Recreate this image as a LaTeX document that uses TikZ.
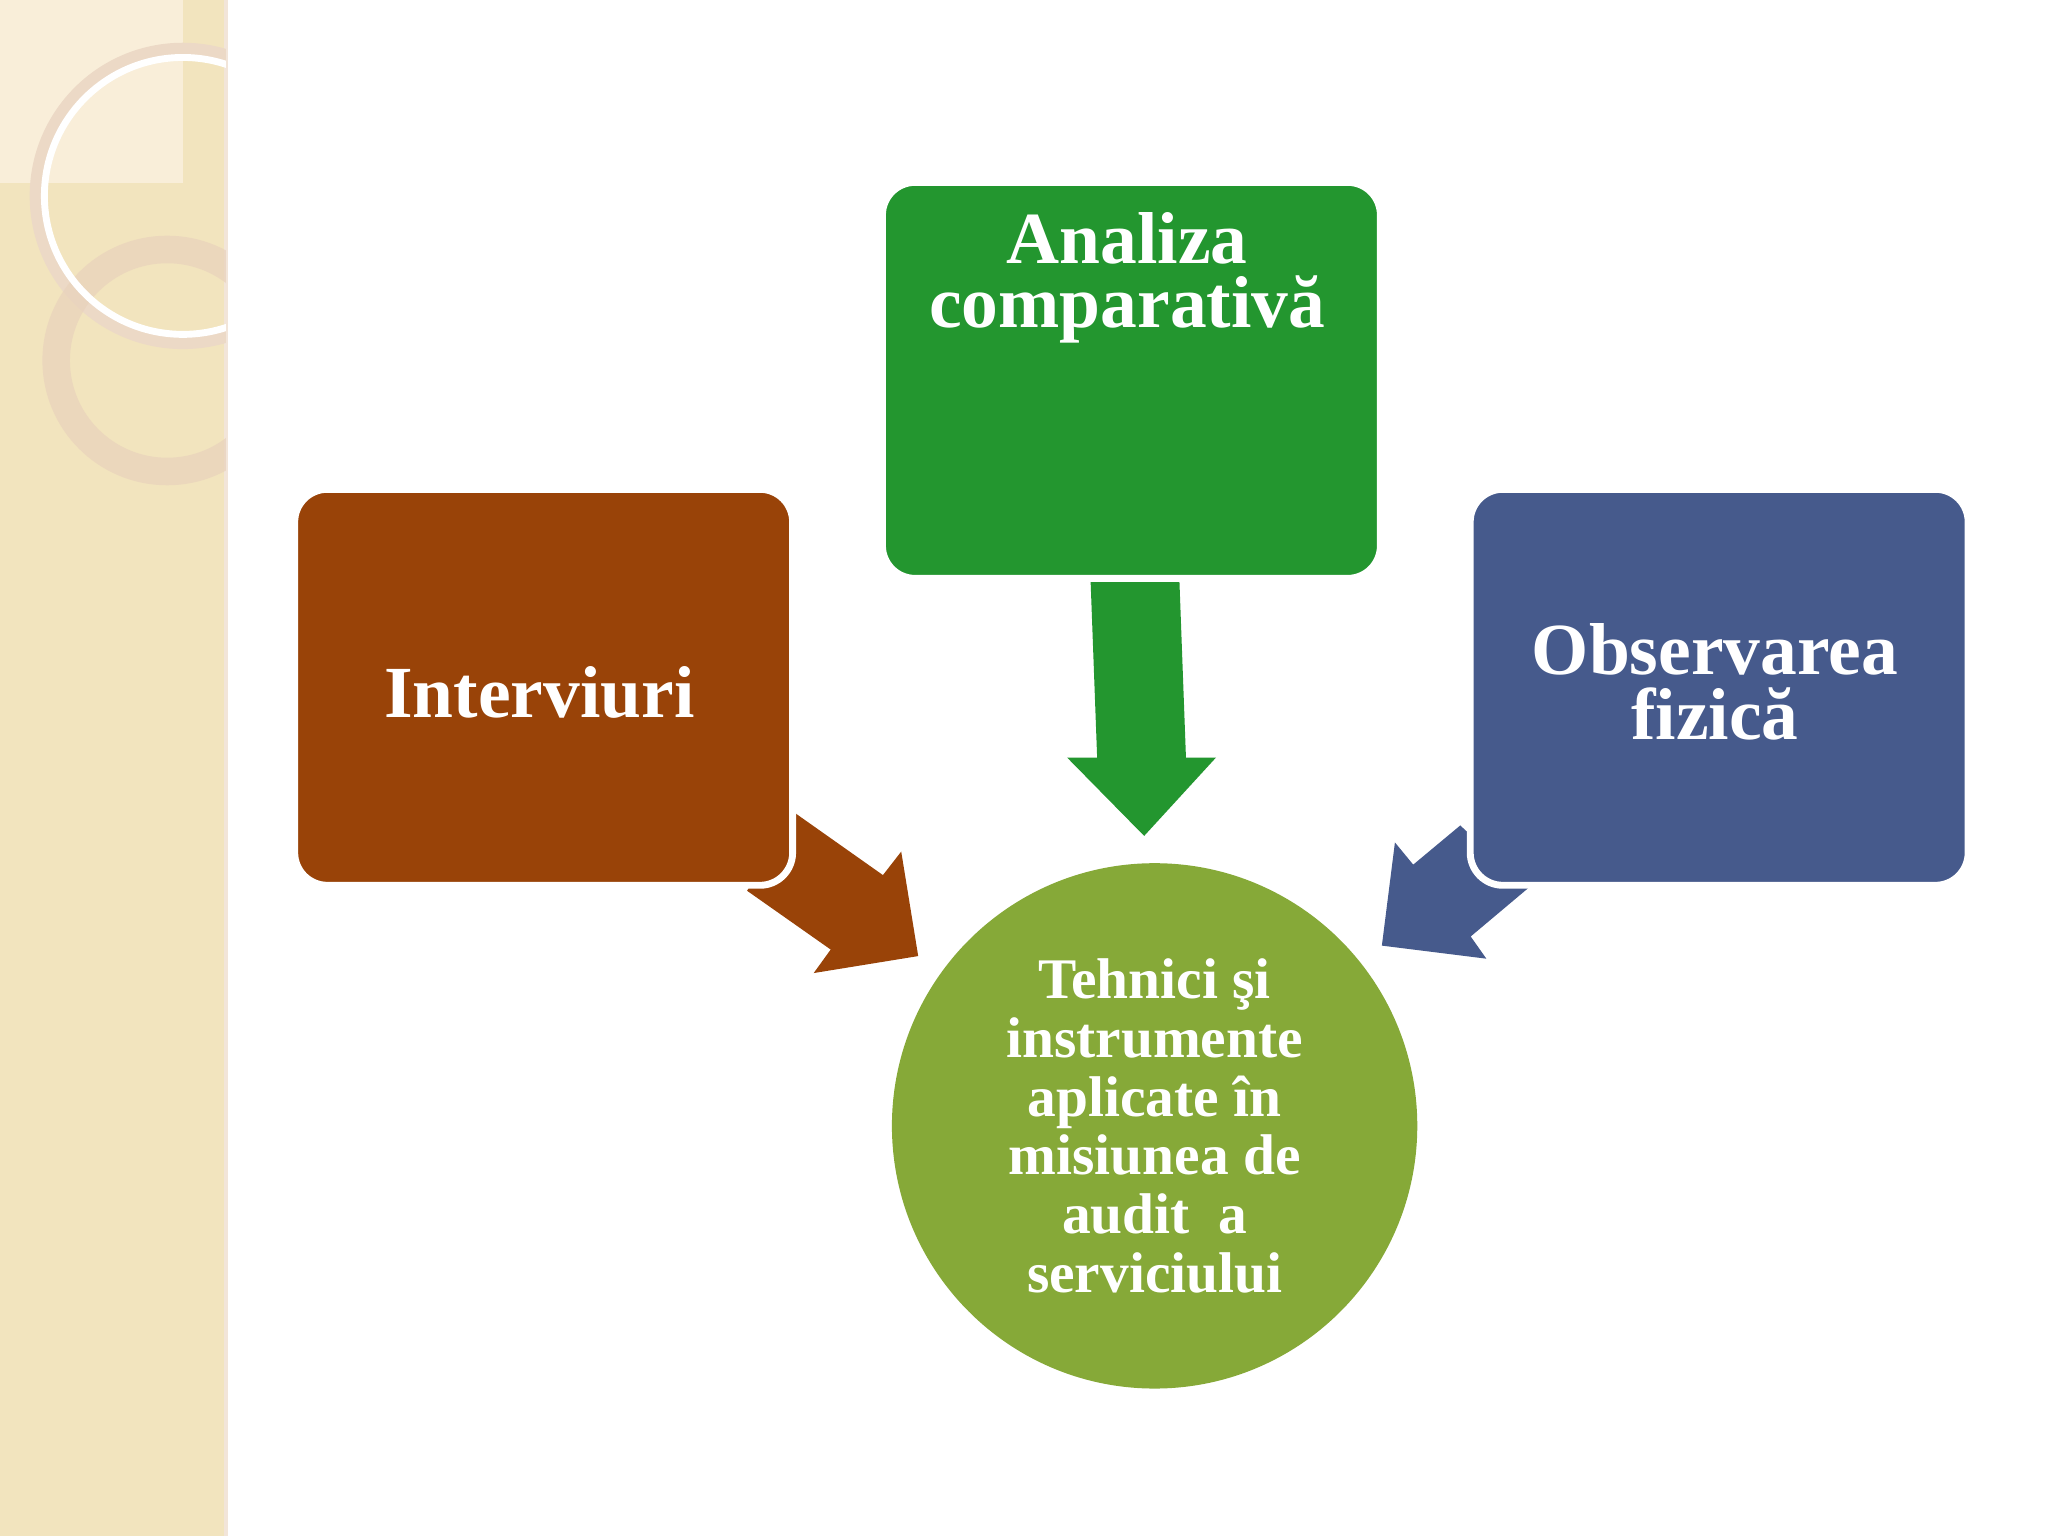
\documentclass[tikz,border=0pt]{standalone}
\usepackage{fontspec}
\setmainfont{Liberation Serif}
\definecolor{cbrown}{RGB}{153,67,8}
\definecolor{cgreen}{RGB}{35,150,47}
\definecolor{cblue}{RGB}{70,90,140}
\definecolor{clime}{RGB}{134,169,56}
\definecolor{cstrip}{RGB}{242,228,190}
\begin{document}
\begin{tikzpicture}[x=0.01cm,y=-0.01cm,
  box/.style={rounded corners=0.25cm, draw=white, line width=1.5pt, minimum width=3.81cm, minimum height=3.03cm, anchor=north west},
  lbl/.style={text=white, font=\bfseries\fontsize{16}{17}\selectfont, align=center}]
\fill[white] (0,0) rectangle (1568,1176);
\useasboundingbox (0,0) rectangle (1568,1176);
% side strip
\fill[cstrip] (0,0) rectangle (173,1176);
\draw[white!80!brown, line width=1pt] (173,0) -- (173,1176);
\begin{scope}
\clip (0,0) rectangle (173,1176);
\fill[orange!8!white, opacity=0.6] (0,0) rectangle (140,140);
\draw[white!70!brown, line width=3pt] (140,150) circle (112);
\draw[white!65!brown, line width=6pt, opacity=0.7] (128,276) circle (85);
\draw[white, line width=1.5pt] (140,150) circle (106);
\end{scope}
% arrows
\fill[cgreen] (835,445) -- (903,445) -- (908,580) -- (931,580) -- (876,640) -- (817,580) -- (840,580) -- cycle;
\fill[cbrown] (608,622) -- (676,670) -- (690,652) -- (703,732) -- (623,745) -- (636,727) -- (572,682) -- cycle;
\fill[cblue] (1118,632) -- (1082,662) -- (1068,645) -- (1058,724) -- (1138,734) -- (1126,717) -- (1170,680) -- cycle;
% boxes
\node[box, fill=cbrown] (intv) at (223,372) {};
\node[lbl] at (413,530) {Interviuri};
\node[box, fill=cgreen] (anal) at (673,137) {};
\node[lbl, anchor=north] at (863,150) {Analiza\\[-3pt] comparativă};
\node[box, fill=cblue] (obs) at (1123,372) {};
\node[lbl] at (1313,522) {Observarea\\[-3pt] fizică};
% circle
\node[circle, fill=clime, minimum size=4.02cm, inner sep=0] (tech) at (884,862) {};
\node[text=white, font=\bfseries\fontsize{12.5}{12.8}\selectfont, align=center] at (884,862) {Tehnici şi\\instrumente\\aplicate în\\misiunea de\\audit~~a\\serviciului};
\end{tikzpicture}
\end{document}
